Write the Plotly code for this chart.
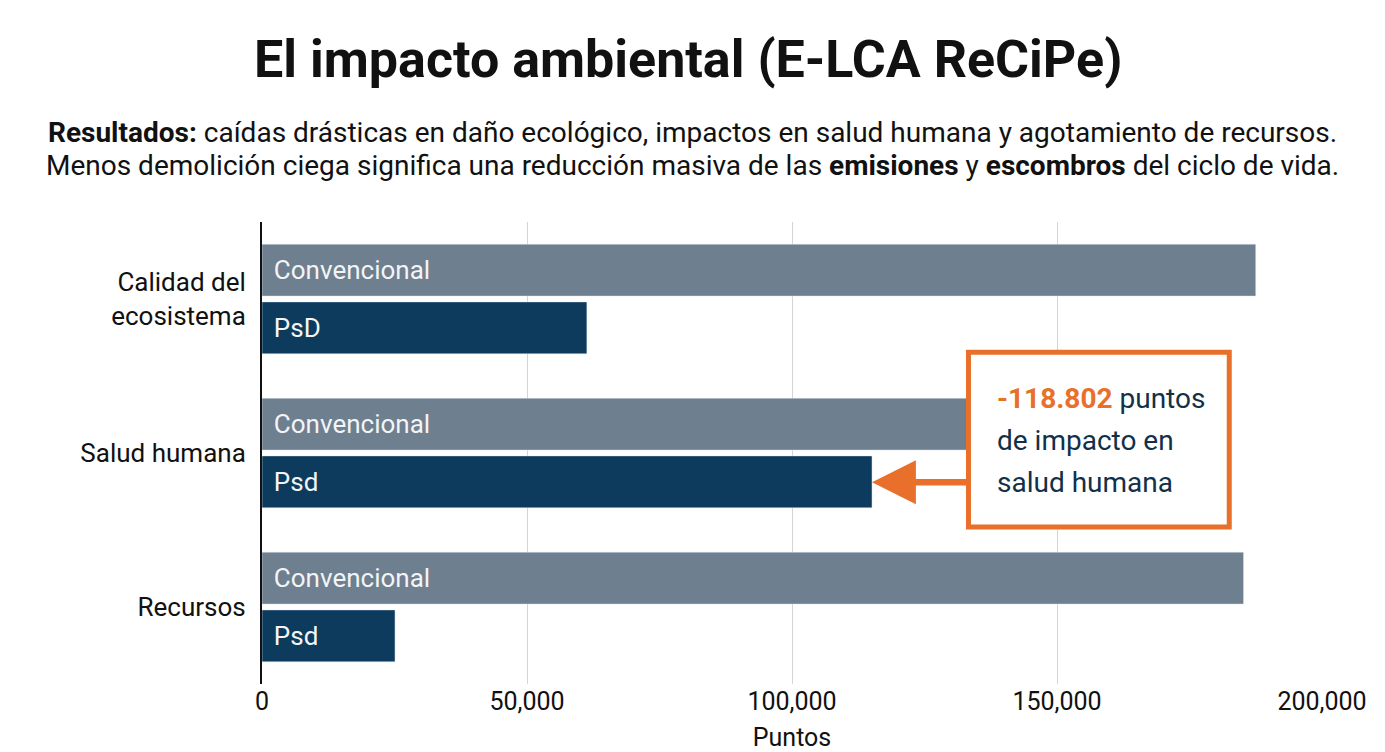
import plotly.graph_objects as go

# Datos
categorias = ["Calidad del<br>ecosistema", "Salud humana", "Recursos"]
convencional = [187500, 175000, 185200]
psd = [61300, 115100, 25100]
etiquetas_conv = ["Convencional", "Convencional", "Convencional"]
etiquetas_psd = ["PsD", "Psd", "Psd"]
ticks_x = [0, 50000, 100000, 150000, 200000]
diferencia = "-118.802"
lineas_subtitulo = [
    "<b>Resultados:</b> caídas drásticas en daño ecológico, impactos en salud humana y agotamiento de recursos.",
    "Menos demolición ciega significa una reducción masiva de las <b>emisiones</b> y <b>escombros</b> del ciclo de vida.",
]
lineas_recuadro = [
    f"<b><span style='color:#e8702a'>{diferencia}</span></b> puntos",
    "de impacto en",
    "salud humana",
]

gris = "#6e7f8f"
azul = "#0c3b5e"
naranja = "#e8702a"
texto = "#12304a"

fig = go.Figure()

for nombre, valores, etiquetas, color in [
    ("Convencional", convencional, etiquetas_conv, gris),
    ("PsD", psd, etiquetas_psd, azul),
]:
    fig.add_trace(go.Bar(
        y=categorias, x=valores, orientation="h", name=nombre,
        marker=dict(color=color), text=etiquetas, texttemplate="\u2004%{text}",
        textposition="inside", insidetextanchor="start", constraintext="none",
        textfont=dict(size=26, color="#f2f4f6", family="Roboto"),
        hoverinfo="x+name",
    ))

# la página deja 8 px de margen, así que el lienzo se reduce un poco
fig.update_layout(
    width=1377, height=744,
    margin=dict(l=254, r=63, t=214, b=68),
    paper_bgcolor="white", plot_bgcolor="white",
    barmode="group", bargap=0.25, bargroupgap=0.1,
    showlegend=False,
    font=dict(family="Roboto", color="#111111"),
    title=dict(
        text="<b>El impacto ambiental (E-LCA ReCiPe)</b>",
        x=0.494, xref="container", y=0.932, yref="container",
        xanchor="center", yanchor="middle",
        font=dict(size=52, color="#111111", family="Roboto"),
    ),
)

# subtítulo en dos líneas
for i, linea in enumerate(lineas_subtitulo):
    fig.add_annotation(
        text=linea, xref="paper", yref="paper", x=0.406, y=1.193 - 0.07 * i,
        xanchor="center", yanchor="middle", showarrow=False,
        font=dict(size=28, color="#111111", family="Roboto"),
    )

fig.update_xaxes(
    range=[0, 200000], tickvals=ticks_x, tickformat=",",
    showgrid=True, gridcolor="#d4d4d4", gridwidth=1,
    zeroline=False, showline=False, automargin=False,
    tickfont=dict(size=25, color="#111111"),
    title=dict(text="Puntos", font=dict(size=25, color="#111111"), standoff=24),
)
fig.update_yaxes(
    autorange="reversed", showgrid=False, automargin=False,
    showline=True, linecolor="#111111", linewidth=2,
    tickfont=dict(size=26, color="#111111"),
    ticklabelstandoff=9,
)

# Flecha hacia la barra PsD de salud humana
fig.add_annotation(
    x=psd[1], y=1.19, xref="x", yref="y",
    ax=133200, ay=1.19, axref="x", ayref="y",
    text="", showarrow=True, arrowhead=2, arrowsize=1.35, arrowwidth=6.5,
    arrowcolor=naranja,
)

# Recuadro de la diferencia
fig.add_shape(
    type="rect", xref="x", yref="y",
    x0=133300, x1=182500, y0=0.345, y1=1.48,
    line=dict(color=naranja, width=5), fillcolor="white", layer="above",
)
for i, linea in enumerate(lineas_recuadro):
    fig.add_annotation(
        x=138300, y=0.643 + 0.273 * i, xref="x", yref="y",
        text=linea, showarrow=False, xanchor="left", yanchor="middle",
        font=dict(size=28, color=texto, family="Roboto"),
    )

fig.write_html("out.html")
